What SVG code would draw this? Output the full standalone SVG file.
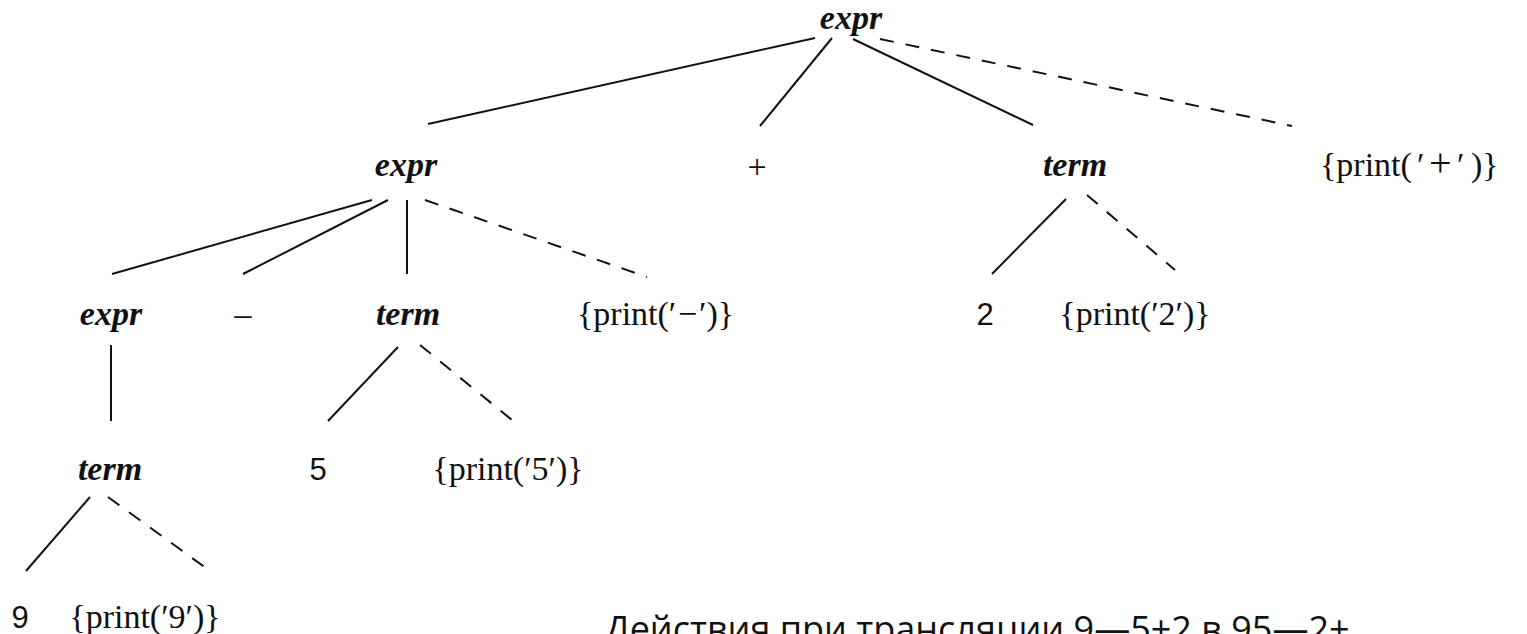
<svg xmlns="http://www.w3.org/2000/svg" width="1527" height="634" viewBox="0 0 1527 634">
  <style>
    .nt { font-family: "Liberation Serif", "Times New Roman", serif; font-style: italic; font-weight: bold; font-size: 34px; fill: #111; text-anchor: middle; }
    .act { font-family: "Liberation Serif", "Times New Roman", serif; font-size: 34px; fill: #111; text-anchor: middle; }
    .act-l { font-family: "Liberation Serif", "Times New Roman", serif; font-size: 34px; fill: #111; }
    .dig { font-family: "Liberation Sans", Arial, sans-serif; font-size: 31px; fill: #111; text-anchor: middle; }
    .edge { stroke: #111; stroke-width: 2; fill: none; }
    .act-edge { stroke: #111; stroke-width: 2; fill: none; stroke-dasharray: 14 12; }
    .caption { font-family: "Open Sans", "Noto Sans", sans-serif; font-size: 36px; fill: #111; }
  </style>
  <rect width="1527" height="634" fill="#fff"/>

  <!-- parse tree edges: solid = grammar children, dashed = semantic actions -->
  <g id="connectors">
    <line class="edge" x1="815" y1="38" x2="428" y2="124"/>
    <line class="edge" x1="832" y1="38" x2="760" y2="126"/>
    <line class="edge" x1="853" y1="39" x2="1033" y2="125"/>
    <line class="act-edge" x1="880" y1="39" x2="1292" y2="126"/>

    <line class="edge" x1="372" y1="200" x2="112" y2="274"/>
    <line class="edge" x1="388" y1="200" x2="243" y2="274"/>
    <line class="edge" x1="407" y1="200" x2="407" y2="274"/>
    <line class="act-edge" x1="425" y1="200" x2="647" y2="277"/>

    <line class="edge" x1="1066" y1="199" x2="992" y2="274"/>
    <line class="act-edge" x1="1087" y1="195" x2="1175" y2="270"/>

    <line class="edge" x1="111" y1="345" x2="111" y2="421"/>

    <line class="edge" x1="398" y1="347" x2="328" y2="421"/>
    <line class="act-edge" x1="420" y1="345" x2="512" y2="420"/>

    <line class="edge" x1="90" y1="497" x2="26" y2="571"/>
    <line class="act-edge" x1="108" y1="497" x2="210" y2="571"/>
  </g>

  <g id="expr-root"><text class="nt" x="851" y="29">expr</text></g>

  <g id="expr-1"><text class="nt" x="406" y="176">expr</text></g>
  <g id="plus"><text class="act" x="757" y="178">+</text></g>
  <g id="term-2"><text class="nt" x="1075" y="176">term</text></g>
  <g id="print-plus"><text class="act-l" y="176"><tspan x="1320">{print(</tspan><tspan x="1417">′</tspan><tspan x="1429" font-size="40">+</tspan><tspan x="1457">′</tspan><tspan x="1471">)}</tspan></text></g>

  <g id="expr-2"><text class="nt" x="111" y="325">expr</text></g>
  <g id="minus"><text class="act" x="243" y="325">–</text></g>
  <g id="term-5"><text class="nt" x="408" y="325">term</text></g>
  <g id="print-minus"><text class="act-l" y="325"><tspan x="577">{print(′</tspan><tspan x="678">−</tspan><tspan x="699">′)}</tspan></text></g>
  <g id="digit-2"><text class="dig" x="985" y="325">2</text></g>
  <g id="print-2"><text class="act" x="1135" y="325">{print(′2′)}</text></g>

  <g id="term-9"><text class="nt" x="110" y="480">term</text></g>
  <g id="digit-5"><text class="dig" x="318" y="480">5</text></g>
  <g id="print-5"><text class="act" x="508" y="480">{print(′5′)}</text></g>

  <g id="digit-9"><text class="dig" x="20" y="628">9</text></g>
  <g id="print-9"><text class="act" x="145" y="628">{print(′9′)}</text></g>

  <g id="caption"><text class="caption" x="605" y="642">Действия при трансляции 9—5+2 в 95—2+</text></g>
</svg>
